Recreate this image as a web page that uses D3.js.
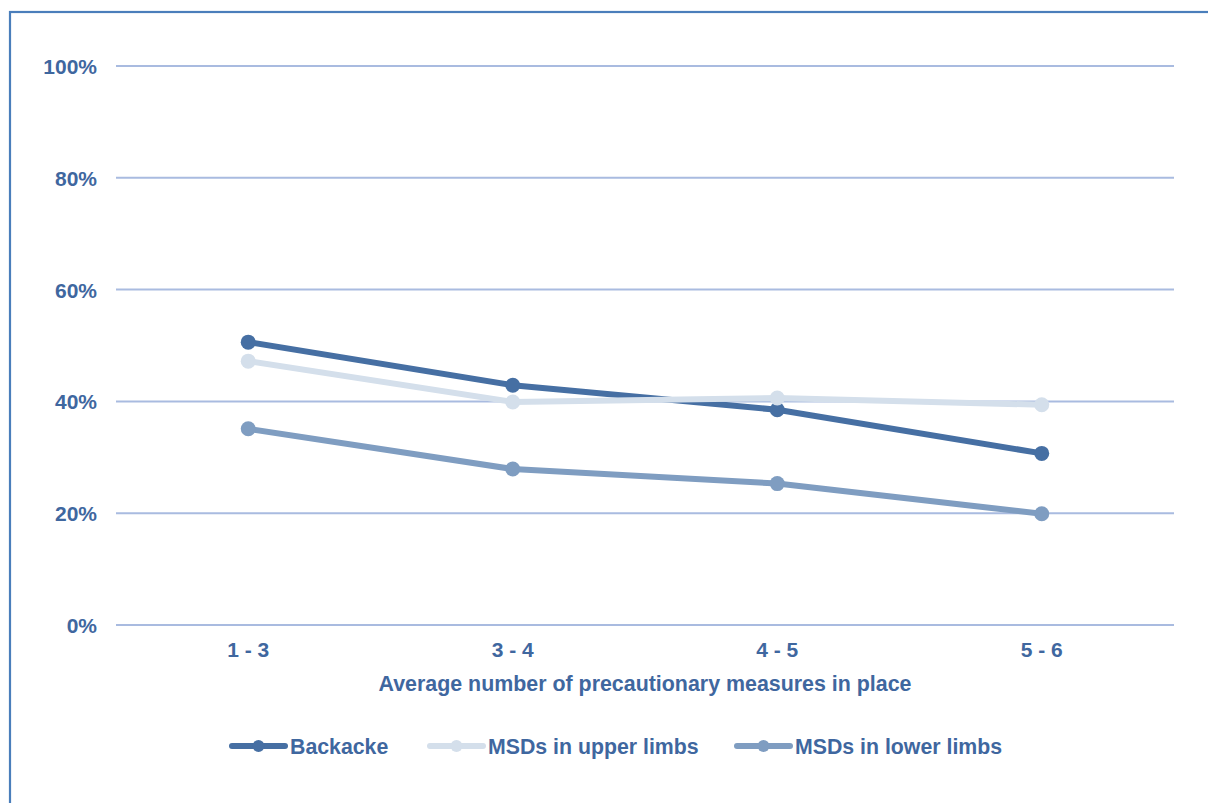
<!DOCTYPE html>
<html>
<head>
<meta charset="utf-8">
<script src="https://cdn.jsdelivr.net/npm/d3@7"></script>
<style>
  html, body { margin: 0; padding: 0; background: #fff; }
  svg { display: block; }
  text { font-family: "Liberation Sans", Arial, sans-serif; font-weight: bold; fill: #3f679f; }
</style>
</head>
<body>
<svg id="chart" width="1208" height="803"></svg>
<script>
const categories = ["1 - 3", "3 - 4", "4 - 5", "5 - 6"];
const seriesNames = ["Backacke", "MSDs in upper limbs", "MSDs in lower limbs"];
const backache = [50.6, 42.9, 38.5, 30.7];
const upperLimbs = [47.2, 39.9, 40.6, 39.4];
const lowerLimbs = [35.1, 27.9, 25.3, 19.9];
const yTicks = [0, 20, 40, 60, 80, 100];
const xTitle = "Average number of precautionary measures in place";
const colors = ["#466fa3", "#d4dfeb", "#7f9dc1"];

const series = [
  { name: seriesNames[0], values: backache, color: colors[0] },
  { name: seriesNames[1], values: upperLimbs, color: colors[1] },
  { name: seriesNames[2], values: lowerLimbs, color: colors[2] }
];

const svg = d3.select("#chart");
const W = 1208, H = 803;

// frame border
svg.append("rect")
  .attr("x", 10).attr("y", 12).attr("width", W + 20).attr("height", H + 20)
  .attr("fill", "none").attr("stroke", "#4a7ebb").attr("stroke-width", 2.2);

const pLeft = 116, pRight = 1174, pTop = 66, pBottom = 625;

const x = d3.scaleBand().domain(categories).range([pLeft, pRight]).padding(0);
const y = d3.scaleLinear().domain([0, 100]).range([pBottom, pTop]);

// gridlines
svg.append("g").selectAll("line").data(yTicks).join("line")
  .attr("x1", pLeft).attr("x2", pRight)
  .attr("y1", d => y(d)).attr("y2", d => y(d))
  .attr("stroke", "#a9bbe0").attr("stroke-width", 2);

// y axis labels
const yAxis = d3.axisLeft(y).tickValues(yTicks).tickFormat(d => d + "%").tickSize(0).tickPadding(0);
const gy = svg.append("g").attr("transform", `translate(97,0)`).call(yAxis);
gy.select(".domain").remove();
gy.selectAll("text")
  .attr("font-size", 21).attr("font-family", "Liberation Sans, Arial, sans-serif")
  .attr("font-weight", "bold").attr("fill", "#3f679f").attr("dy", "0.36em");

// x axis labels
const xAxis = d3.axisBottom(x).tickSize(0).tickPadding(0);
const gx = svg.append("g").attr("transform", `translate(0,${pBottom})`).call(xAxis);
gx.select(".domain").remove();
gx.selectAll("text")
  .attr("font-size", 21).attr("font-family", "Liberation Sans, Arial, sans-serif")
  .attr("font-weight", "bold").attr("fill", "#3f679f").attr("dy", null).attr("y", 32);

// x title
svg.append("text")
  .attr("x", (pLeft + pRight) / 2).attr("y", 691)
  .attr("text-anchor", "middle").attr("font-size", 21.4)
  .text(xTitle);

const cx = d => x(d) + x.bandwidth() / 2;
const line = d3.line().x((d, i) => cx(categories[i])).y(d => y(d));

series.forEach(s => {
  const g = svg.append("g");
  g.append("path")
    .attr("d", line(s.values))
    .attr("fill", "none").attr("stroke", s.color).attr("stroke-width", 6)
    .attr("stroke-linejoin", "round");
  g.selectAll("circle").data(s.values).join("circle")
    .attr("cx", (d, i) => cx(categories[i]))
    .attr("cy", d => y(d))
    .attr("r", 7.5).attr("fill", s.color);
});

// legend
const legendX = [232, 430, 737];
const legendY = 746;
const lg = svg.append("g");
series.forEach((s, i) => {
  const g = lg.append("g").attr("transform", `translate(${legendX[i]},${legendY})`);
  g.append("line").attr("x1", 0).attr("x2", 53).attr("y1", 0).attr("y2", 0)
    .attr("stroke", s.color).attr("stroke-width", 6).attr("stroke-linecap", "round");
  g.append("circle").attr("cx", 26.5).attr("cy", 0).attr("r", 6).attr("fill", s.color);
  g.append("text").attr("x", 58).attr("y", 0).attr("dy", "0.36em")
    .attr("font-size", 21.3).text(s.name);
});
</script>
</body>
</html>
